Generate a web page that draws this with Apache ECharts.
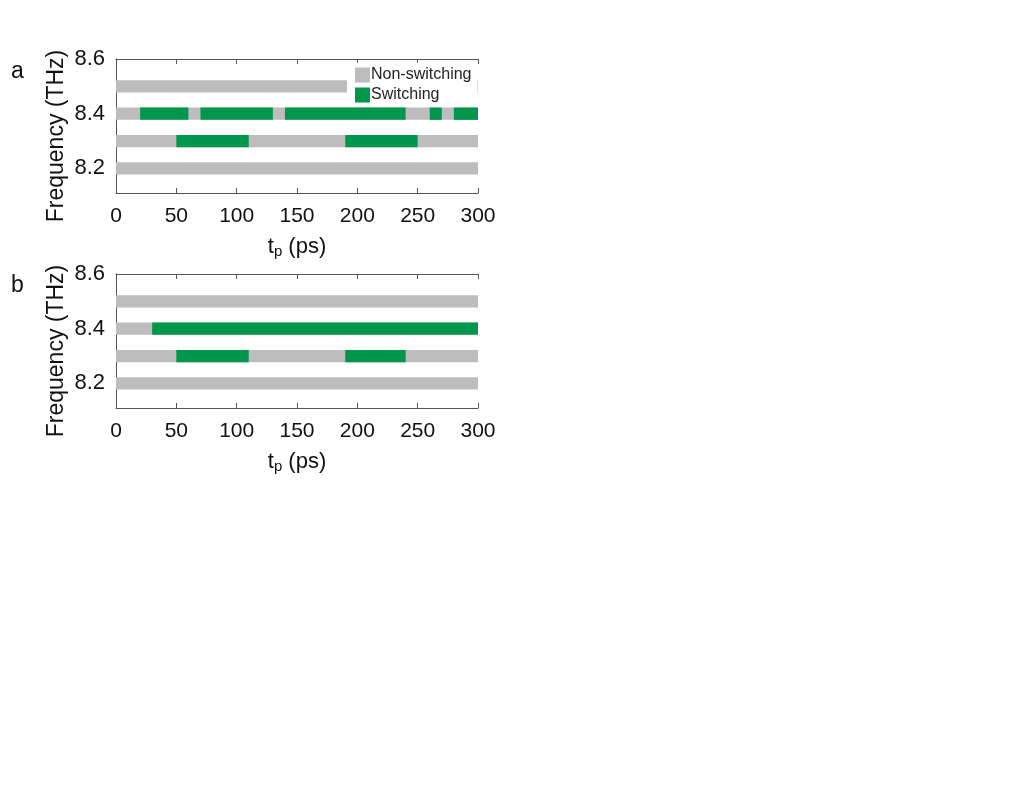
<!DOCTYPE html>
<html>
<head>
<meta charset="utf-8">
<script src="https://cdn.jsdelivr.net/npm/echarts@6/dist/echarts.min.js"></script>
<style>
  html, body { margin: 0; padding: 0; background: #fff; }
  #chart { width: 1017px; height: 795px; }
</style>
</head>
<body>
<div id="chart"></div>
<script>
// frequency rows (THz)
const rows = [8.2, 8.3, 8.4, 8.5];
const yTicks = [8.2, 8.4, 8.6];
const xTicks = [0, 50, 100, 150, 200, 250, 300];

// panel a: switching segments [start, end, freq] in ps
const switchA = [
  [20, 60, 8.4], [70, 130, 8.4], [140, 240, 8.4], [260, 270, 8.4], [280, 300, 8.4],
  [50, 110, 8.3], [190, 250, 8.3]
];
// panel b
const switchB = [
  [30, 300, 8.4],
  [50, 110, 8.3], [190, 240, 8.3]
];
// non-switching background bars span full range
const fullRange = [0, 300];

const GRAY = '#bdbdbd';
const GREEN = '#00964b';
const FONT = 'Liberation Sans, Arial, sans-serif';
const BAR_H = 0.045;

const grayData = rows.map(f => [fullRange[0], fullRange[1], f]);

function renderBar(params, api) {
  const p0 = api.coord([api.value(0), api.value(2)]);
  const p1 = api.coord([api.value(1), api.value(2)]);
  const h = api.size([0, BAR_H])[1];
  return {
    type: 'rect',
    shape: { x: p0[0], y: p0[1] - h / 2, width: p1[0] - p0[0], height: h },
    style: { fill: api.visual('color') }
  };
}

function xAxisFor(gi) {
  return [{
    gridIndex: gi, type: 'value', min: 0, max: 300, interval: 50,
    axisLine: { show: true, lineStyle: { color: '#555', width: 1 } },
    axisTick: { show: true, inside: true, length: 5, lineStyle: { color: '#555' } },
    axisLabel: { fontSize: 21, color: '#111', fontFamily: FONT, margin: 13 },
    splitLine: { show: false },
    name: '{t|t}{s|p}{t| (ps)}', nameLocation: 'middle', nameGap: 42,
    nameTextStyle: {
      rich: {
        t: { fontSize: 22, color: '#111', fontFamily: FONT },
        s: { fontSize: 15, color: '#111', fontFamily: FONT, verticalAlign: 'bottom', padding: [9, 0, 0, 0] }
      }
    }
  }, {
    gridIndex: gi, type: 'value', position: 'top', min: 0, max: 300, interval: 50,
    axisLine: { show: true, lineStyle: { color: '#555', width: 1 } },
    axisTick: { show: true, inside: true, length: 5, lineStyle: { color: '#555' } },
    axisLabel: { show: false }, splitLine: { show: false }
  }];
}

function yAxisFor(gi) {
  return [{
    gridIndex: gi, type: 'value', min: 8.11, max: 8.6,
    axisLine: { show: true, lineStyle: { color: '#555', width: 1 } },
    axisTick: { show: false },
    axisLabel: { fontSize: 22, color: '#111', fontFamily: FONT, margin: 11, customValues: yTicks },
    splitLine: { show: false }
  }, {
    gridIndex: gi, type: 'value', position: 'right', min: 8.11, max: 8.6,
    axisLine: { show: true, lineStyle: { color: '#555', width: 1 } },
    axisTick: { show: false }, axisLabel: { show: false }, splitLine: { show: false }
  }];
}

function yTitle(cy) {
  return {
    type: 'text', x: 57, y: cy, rotation: Math.PI / 2,
    style: { text: 'Frequency (THz)', fontSize: 23, fill: '#111', fontFamily: FONT,
      align: 'center', verticalAlign: 'middle' }
  };
}

const chart = echarts.init(document.getElementById('chart'));
chart.setOption({
  animation: false,
  backgroundColor: '#fff',
  grid: [
    { left: 116, top: 59, width: 362, height: 134 },
    { left: 116, top: 274, width: 362, height: 134 }
  ],
  xAxis: [...xAxisFor(0), ...xAxisFor(1)],
  yAxis: [...yAxisFor(0), ...yAxisFor(1)],
  legend: {
    data: ['Non-switching', 'Switching'],
    orient: 'vertical', left: 347, top: 63,
    backgroundColor: '#fff', padding: [4, 6, 3, 8],
    itemWidth: 15, itemHeight: 15, itemGap: 4, icon: 'rect',
    textStyle: { fontSize: 16, color: '#222', fontFamily: FONT, padding: [0, 0, 0, -4] },
    z: 10
  },
  graphic: [
    { type: 'text', left: 11, top: 60, style: { text: 'a', fontSize: 23, fill: '#111', fontFamily: FONT } },
    { type: 'text', left: 11, top: 274, style: { text: 'b', fontSize: 23, fill: '#111', fontFamily: FONT } },
    yTitle(136),
    yTitle(351)
  ],
  series: [
    { name: 'Non-switching', type: 'custom', xAxisIndex: 0, yAxisIndex: 0, renderItem: renderBar,
      itemStyle: { color: GRAY }, encode: { x: [0, 1], y: 2 }, data: grayData, z: 1 },
    { name: 'Switching', type: 'custom', xAxisIndex: 0, yAxisIndex: 0, renderItem: renderBar,
      itemStyle: { color: GREEN }, encode: { x: [0, 1], y: 2 }, data: switchA, z: 2 },
    { name: 'Non-switching', type: 'custom', xAxisIndex: 2, yAxisIndex: 2, renderItem: renderBar,
      itemStyle: { color: GRAY }, encode: { x: [0, 1], y: 2 }, data: grayData, z: 1 },
    { name: 'Switching', type: 'custom', xAxisIndex: 2, yAxisIndex: 2, renderItem: renderBar,
      itemStyle: { color: GREEN }, encode: { x: [0, 1], y: 2 }, data: switchB, z: 2 }
  ]
});
</script>
</body>
</html>
